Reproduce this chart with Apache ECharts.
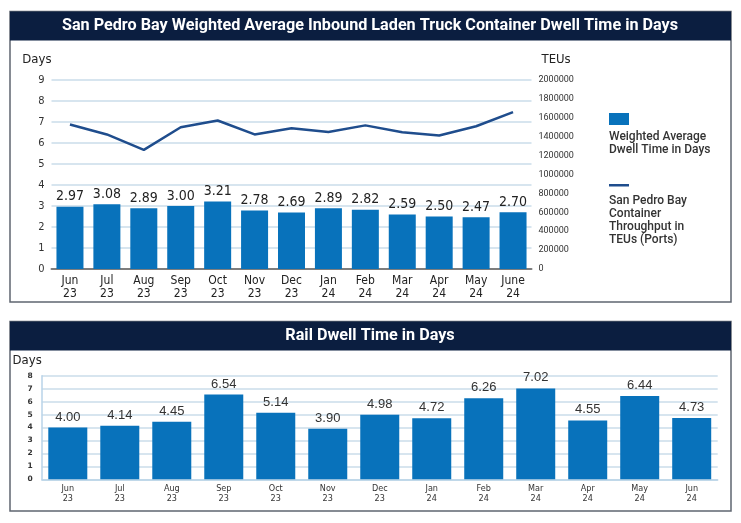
<!DOCTYPE html>
<html lang="en">
<head>
    <meta charset="UTF-8">
    <title>San Pedro Bay Dwell Time</title>
    <script type="text/javascript" src="https://cdn.jsdelivr.net/npm/echarts@6/dist/echarts.min.js"></script>
    <style>
        html, body { margin: 0; padding: 0; background: #fff; }
        #main { width: 741px; height: 523px; }
    </style>
</head>
<body>
<div id="main"></div>

<script>
    // data
    var months = ['Jun\n23', 'Jul\n23', 'Aug\n23', 'Sep\n23', 'Oct\n23', 'Nov\n23', 'Dec\n23',
        'Jan\n24', 'Feb\n24', 'Mar\n24', 'Apr\n24', 'May\n24', 'June\n24'];
    var truckDwell = [2.97, 3.08, 2.89, 3.00, 3.21, 2.78, 2.69, 2.89, 2.82, 2.59, 2.50, 2.47, 2.70];
    var throughputTEU = [1529000, 1424000, 1260000, 1500000, 1571000, 1424000, 1490000,
        1450000, 1520000, 1448000, 1413000, 1511000, 1660000];
    var railMonths = ['Jun\n23', 'Jul\n23', 'Aug\n23', 'Sep\n23', 'Oct\n23', 'Nov\n23', 'Dec\n23',
        'Jan\n24', 'Feb\n24', 'Mar\n24', 'Apr\n24', 'May\n24', 'Jun\n24'];
    var railDwell = [4.00, 4.14, 4.45, 6.54, 5.14, 3.90, 4.98, 4.72, 6.26, 7.02, 4.55, 6.44, 4.73];

    var navy = '#0b1e40';
    var barBlue = '#0872bb';
    var lineBlue = '#1f4d8d';
    var gridBlue = '#cadcea';
    var narrow = '"Liberation Sans Narrow", "DejaVu Sans Condensed", sans-serif';

    var myChart = echarts.init(document.getElementById('main'));

    myChart.setOption({
        animation: false,
        graphic: [
            // panel frames and title bars
            { type: 'rect', shape: { x: 10, y: 11.5, width: 721, height: 290.5 },
              style: { fill: '#fff', stroke: '#5f6670', lineWidth: 1.5 }, z: -10 },
            { type: 'rect', shape: { x: 10, y: 11.5, width: 721, height: 29 },
              style: { fill: navy }, z: -9 },
            { type: 'text', x: 370, y: 26, style: {
                text: 'San Pedro Bay Weighted Average Inbound Laden Truck Container Dwell Time in Days',
                fill: '#fff', font: 'bold 16.2px Roboto, sans-serif', align: 'center', verticalAlign: 'middle' } },
            { type: 'rect', shape: { x: 10, y: 321.5, width: 721, height: 189.5 },
              style: { fill: '#fff', stroke: '#5f6670', lineWidth: 1.5 }, z: -10 },
            { type: 'rect', shape: { x: 10, y: 321.5, width: 721, height: 29 },
              style: { fill: navy }, z: -9 },
            { type: 'text', x: 370, y: 336, style: {
                text: 'Rail Dwell Time in Days',
                fill: '#fff', font: 'bold 16.2px Roboto, sans-serif', align: 'center', verticalAlign: 'middle' } },
            // legend of the top chart
            { type: 'rect', shape: { x: 609, y: 113, width: 20, height: 12 }, style: { fill: barBlue } },
            { type: 'text', x: 609, y: 130, style: {
                text: 'Weighted Average\nDwell Time in Days', fill: '#333',
                font: '500 12px Roboto, sans-serif', lineHeight: 13 } },
            { type: 'rect', shape: { x: 609, y: 184, width: 20, height: 2.5 }, style: { fill: lineBlue } },
            { type: 'text', x: 609, y: 194, style: {
                text: 'San Pedro Bay\nContainer\nThroughput in\nTEUs (Ports)', fill: '#333',
                font: '500 12px Roboto, sans-serif', lineHeight: 13 } }
        ],
        grid: [
            { left: 51.5, right: 209.5, top: 80, bottom: 254 },
            { left: 41.8, right: 23.3, top: 375.7, bottom: 43.7 }
        ],
        xAxis: [
            {
                gridIndex: 0, type: 'category', data: months,
                axisTick: { show: false },
                axisLine: { lineStyle: { color: '#7d7d7d', width: 2 } },
                axisLabel: { color: '#222', fontFamily: narrow, fontSize: 12, lineHeight: 13, margin: 5 }
            },
            {
                gridIndex: 1, type: 'category', data: railMonths,
                axisTick: { show: false },
                axisLine: { lineStyle: { color: '#b9d3e8', width: 1.5 } },
                axisLabel: { color: '#333', fontFamily: narrow, fontSize: 9, lineHeight: 9.5, margin: 5 }
            }
        ],
        yAxis: [
            {
                gridIndex: 0, type: 'value', min: 0, max: 9, interval: 1,
                name: 'Days', nameLocation: 'end', nameGap: 14,
                nameTextStyle: { color: '#222', fontFamily: narrow, fontSize: 13, align: 'right' },
                axisLine: { show: false }, axisTick: { show: false },
                axisLabel: { color: '#333', fontFamily: narrow, fontSize: 11, margin: 7 },
                splitLine: { lineStyle: { color: gridBlue, width: 1.5 } }
            },
            {
                gridIndex: 0, type: 'value', min: 0, max: 2000000, interval: 200000, position: 'right',
                name: 'TEUs', nameLocation: 'end', nameGap: 14,
                nameTextStyle: { color: '#222', fontFamily: narrow, fontSize: 13, align: 'left', padding: [0, 0, 0, 10] },
                axisLine: { show: false }, axisTick: { show: false },
                axisLabel: {
                    color: '#333', fontFamily: 'Roboto, sans-serif', fontSize: 9, margin: 7,
                    formatter: function (v) { return String(v); }
                },
                splitLine: { show: false }
            },
            {
                gridIndex: 1, type: 'value', min: 0, max: 8, interval: 1,
                name: 'Days', nameLocation: 'end', nameGap: 9,
                nameTextStyle: { color: '#222', fontFamily: narrow, fontSize: 13, align: 'right' },
                axisLine: { show: true, lineStyle: { color: '#b9d3e8', width: 1.5 } }, axisTick: { show: false },
                axisLabel: { color: '#333', fontFamily: '"DejaVu Sans", sans-serif', fontWeight: 'bold', fontSize: 7.5, margin: 9 },
                splitLine: { lineStyle: { color: gridBlue, width: 1.5 } }
            }
        ],
        series: [
            {
                name: 'Weighted Average Dwell Time in Days', type: 'bar',
                xAxisIndex: 0, yAxisIndex: 0, data: truckDwell,
                barWidth: 27,
                itemStyle: { color: barBlue },
                label: {
                    show: true, position: 'top', distance: 3, color: '#222',
                    fontFamily: narrow, fontSize: 14,
                    formatter: function (p) { return p.value.toFixed(2); }
                }
            },
            {
                name: 'San Pedro Bay Container Throughput in TEUs (Ports)', type: 'line',
                xAxisIndex: 0, yAxisIndex: 1, data: throughputTEU,
                symbol: 'none', z: 5,
                lineStyle: { color: lineBlue, width: 2.5 }
            },
            {
                name: 'Rail Dwell Time in Days', type: 'bar',
                xAxisIndex: 1, yAxisIndex: 2, data: railDwell,
                barWidth: 39,
                itemStyle: { color: barBlue },
                label: {
                    show: true, position: 'top', distance: 4, color: '#333',
                    fontFamily: '"Liberation Sans", Arial, sans-serif', fontSize: 13,
                    formatter: function (p) { return p.value.toFixed(2); }
                }
            }
        ]
    });
</script>

</body>
</html>
